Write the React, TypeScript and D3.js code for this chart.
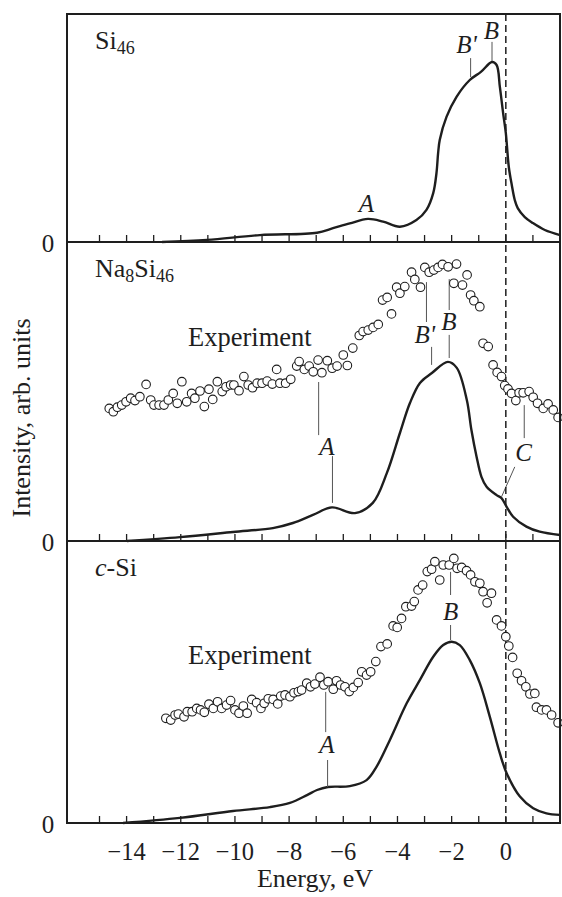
import React from 'react';
import * as d3 from 'd3';

type Pt = [number, number];

// energy (eV), intensity (arb. units)
const si46Calc: Pt[] = [
  [-12.69, 0], [-11.03, 0.07], [-9.08, 0.23], [-6.97, 0.31], [-6.38, 0.46], [-5.76, 0.62],
  [-5.09, 0.77], [-4.53, 0.68], [-3.91, 0.51], [-3.3, 0.73], [-2.93, 1.07], [-2.68, 1.63],
  [-2.56, 2.3], [-2.5, 2.96], [-2.44, 3.4], [-2.19, 4.17], [-1.82, 4.84], [-1.33, 5.4],
  [-0.92, 5.67], [-0.51, 6.0], [-0.34, 5.9], [-0.22, 5.17], [-0.1, 4.3], [0.0, 3.63],
  [0.11, 2.5], [0.22, 1.9], [0.33, 1.4], [0.44, 1.13], [0.7, 0.83], [1.0, 0.63], [1.44, 0.4], [2.0, 0.23],
];

const na8Calc: Pt[] = [
  [-13.99, 0], [-12.03, 0.13], [-10.07, 0.3], [-8.6, 0.43], [-7.86, 0.6], [-7.12, 0.87],
  [-6.42, 1.12], [-5.57, 0.93], [-4.91, 1.27], [-4.39, 2.27], [-3.91, 3.6], [-3.54, 4.6],
  [-3.17, 5.27], [-2.73, 5.6], [-2.14, 5.97], [-1.81, 5.77], [-1.44, 4.7], [-1.27, 3.7],
  [-1.08, 2.81], [-0.9, 2.14], [-0.71, 1.81], [-0.34, 1.53], [-0.16, 1.43], [0.03, 1.14],
  [0.27, 0.81], [0.76, 0.48], [1.25, 0.31], [2.0, 0.2],
];

const na8Exp: Pt[] = [
  [-14.64, 4.42], [-14.49, 4.31], [-14.34, 4.46], [-14.18, 4.53], [-14.02, 4.64], [-13.85, 4.76],
  [-13.69, 4.68], [-13.51, 4.81], [-13.28, 5.22], [-13.11, 4.7], [-12.99, 4.53], [-12.8, 4.53],
  [-12.62, 4.53], [-12.46, 4.7], [-12.28, 4.92], [-12.13, 4.59], [-11.96, 5.31], [-11.78, 4.64],
  [-11.6, 4.92], [-11.48, 4.76], [-11.29, 5.0], [-11.13, 4.48], [-10.96, 5.06], [-10.82, 4.72],
  [-10.65, 5.31], [-10.47, 4.98], [-10.33, 5.14], [-10.16, 5.2], [-10.04, 5.2], [-9.85, 5.01],
  [-9.67, 5.48], [-9.51, 5.2], [-9.35, 5.11], [-9.18, 5.26], [-9.0, 5.26], [-8.81, 5.33],
  [-8.62, 5.23], [-8.46, 5.72], [-8.34, 5.26], [-8.13, 5.26], [-7.94, 5.39], [-7.72, 5.83],
  [-7.63, 5.98], [-7.44, 5.72], [-7.26, 5.83], [-7.11, 5.64], [-6.93, 6.03], [-6.79, 5.61],
  [-6.59, 6.01], [-6.41, 5.76], [-6.23, 5.83], [-6.0, 6.2], [-5.85, 5.85], [-5.65, 6.43],
  [-5.41, 6.85], [-5.27, 6.98], [-5.08, 7.03], [-4.9, 7.12], [-4.71, 7.22], [-4.55, 8.03],
  [-4.38, 8.12], [-4.22, 7.57], [-4.03, 8.46], [-3.91, 8.26], [-3.73, 8.48], [-3.48, 8.96],
  [-3.36, 8.72], [-3.15, 8.46], [-2.99, 9.12], [-2.83, 8.96], [-2.66, 9.03], [-2.5, 9.12],
  [-2.34, 9.22], [-2.13, 9.14], [-1.92, 8.59], [-1.82, 9.23], [-1.6, 8.53], [-1.43, 8.87],
  [-1.3, 8.2], [-1.18, 8.01], [-0.96, 7.81], [-0.84, 6.59], [-0.65, 6.48], [-0.47, 5.87],
  [-0.32, 5.62], [-0.16, 5.48], [-0.04, 5.18], [0.08, 5.07], [0.21, 4.92], [0.37, 4.68],
  [0.49, 4.94], [0.64, 4.94], [0.86, 4.98], [1.01, 4.79], [1.17, 4.59], [1.38, 4.42],
  [1.56, 4.57], [1.75, 4.37], [1.93, 4.12],
];

const cSiCalc: Pt[] = [
  [-14.13, 0], [-12.03, 0.17], [-10.07, 0.4], [-8.71, 0.53], [-7.97, 0.67], [-7.34, 0.93],
  [-6.97, 1.1], [-6.57, 1.2], [-5.76, 1.23], [-5.14, 1.43], [-4.77, 1.88], [-4.28, 2.77],
  [-3.66, 3.99], [-3.17, 4.77], [-2.68, 5.54], [-2.31, 5.93], [-2.0, 6.04], [-1.7, 5.93],
  [-1.33, 5.43], [-0.96, 4.66], [-0.59, 3.54], [-0.22, 2.32], [0.03, 1.66], [0.52, 0.88],
  [1.01, 0.49], [1.5, 0.32], [1.99, 0.27],
];

const cSiExp: Pt[] = [
  [-12.55, 3.49], [-12.37, 3.43], [-12.21, 3.6], [-12.09, 3.63], [-11.88, 3.54], [-11.76, 3.71],
  [-11.58, 3.71], [-11.41, 3.82], [-11.27, 3.77], [-11.13, 3.69], [-10.96, 3.96], [-10.8, 3.82],
  [-10.64, 4.04], [-10.49, 3.82], [-10.31, 3.93], [-10.16, 4.08], [-10.0, 3.77], [-9.85, 3.66],
  [-9.69, 3.9], [-9.55, 3.66], [-9.38, 4.12], [-9.2, 4.01], [-9.04, 3.82], [-8.92, 3.99],
  [-8.77, 4.14], [-8.59, 4.12], [-8.42, 3.97], [-8.31, 4.23], [-8.15, 4.27], [-7.97, 4.21],
  [-7.82, 4.34], [-7.66, 4.38], [-7.54, 4.43], [-7.35, 4.66], [-7.21, 4.54], [-7.05, 4.63],
  [-6.86, 4.86], [-6.72, 4.6], [-6.56, 4.71], [-6.37, 4.46], [-6.25, 4.74], [-6.1, 4.6],
  [-5.94, 4.54], [-5.78, 4.38], [-5.63, 4.52], [-5.45, 4.68], [-5.32, 5.04], [-5.14, 4.93],
  [-4.99, 5.04], [-4.8, 5.38], [-4.61, 5.88], [-4.38, 5.97], [-4.16, 6.57], [-4.01, 6.52],
  [-3.85, 6.82], [-3.69, 7.21], [-3.48, 7.23], [-3.38, 7.38], [-3.24, 7.77], [-3.07, 7.93],
  [-2.9, 8.38], [-2.74, 8.46], [-2.62, 8.71], [-2.44, 8.1], [-2.31, 8.6], [-2.09, 8.6],
  [-1.92, 8.82], [-1.8, 8.49], [-1.63, 8.52], [-1.45, 8.41], [-1.3, 8.27], [-1.14, 8.04],
  [-0.96, 7.99], [-0.84, 7.71], [-0.69, 7.34], [-0.53, 7.66], [-0.34, 6.77], [-0.16, 6.57],
  [0.0, 6.21], [0.11, 5.9], [0.25, 5.52], [0.42, 4.99], [0.58, 4.74], [0.74, 4.54],
  [0.89, 4.3], [1.07, 4.32], [1.13, 3.86], [1.32, 3.77], [1.5, 3.77], [1.69, 3.6], [1.93, 3.34],
];

const tickValues = d3.range(-15, 2);
const tickLabels = [-14, -12, -10, -8, -6, -4, -2, 0];

// peak marks: label, label position (e, i), leader lines [e1, i1, e2, i2]
type Mark = { label: string; e: number; i: number; lines: number[][] };

const si46Marks: Mark[] = [
  { label: 'A', e: -5.15, i: 1.0, lines: [] },
  { label: "B'", e: -1.45, i: 6.3, lines: [[-1.3, 6.13, -1.3, 5.5]] },
  { label: 'B', e: -0.53, i: 6.77, lines: [[-0.51, 6.67, -0.51, 6.03]] },
];
const na8Marks: Mark[] = [
  { label: 'A', e: -6.61, i: 2.87, lines: [[-6.91, 5.3, -6.91, 3.53], [-6.4, 2.83, -6.4, 1.27]] },
  { label: "B'", e: -2.99, i: 6.6, lines: [[-2.93, 8.63, -2.93, 7.3], [-2.74, 6.47, -2.74, 5.87]] },
  { label: 'B', e: -2.1, i: 7.03, lines: [[-2.09, 8.73, -2.09, 7.7], [-2.09, 6.87, -2.09, 6.1]] },
  { label: 'C', e: 0.66, i: 2.67, lines: [[0.68, 4.53, 0.68, 3.43], [0.33, 2.47, -0.16, 1.47]] },
];
const cSiMarks: Mark[] = [
  { label: 'A', e: -6.61, i: 2.33, lines: [[-6.65, 4.37, -6.65, 3.03], [-6.58, 2.1, -6.58, 1.2]] },
  { label: 'B', e: -2.04, i: 6.77, lines: [[-2.04, 8.37, -2.04, 7.6], [-2.04, 6.6, -2.04, 6.1]] },
];

const W = 562;
const H = 897;
const left = 67;
const right = 560;
const top = 14;
const FONT = "'Liberation Serif', 'Times New Roman', serif";
const INK = '#1e1e1e';

const x = d3.scaleLinear().domain([-16.2, 2.0]).range([left, right]);

const panels = [
  { id: 'si46', y0: 14, y1: 242, calc: si46Calc, exp: null as Pt[] | null, marks: si46Marks, expText: null as number[] | null },
  { id: 'na8', y0: 242, y1: 541, calc: na8Calc, exp: na8Exp, marks: na8Marks, expText: [-9.45, 6.5] },
  { id: 'csi', y0: 541, y1: 823, calc: cSiCalc, exp: cSiExp, marks: cSiMarks, expText: [-9.45, 5.3] },
];

const Title = ({ id }: { id: string }) => {
  if (id === 'si46')
    return (<>Si<tspan fontSize={18} dy={5}>46</tspan></>);
  if (id === 'na8')
    return (<>Na<tspan fontSize={18} dy={5}>8</tspan><tspan dy={-5}>Si</tspan><tspan fontSize={18} dy={5}>46</tspan></>);
  return (<><tspan fontStyle="italic">c</tspan>-Si</>);
};

export default function App() {
  const bottom = panels[panels.length - 1].y1;
  return (
    <svg width={W} height={H} style={{ position: 'absolute', left: 0, top: 0, background: '#fff' }}
      fontFamily={FONT} fill={INK}>
      {panels.map((p) => {
        const y = d3.scaleLinear().domain([0, (p.y1 - p.y0) / 30]).range([p.y1, p.y0]);
        const line = d3.line<Pt>().x((d) => x(d[0])).y((d) => y(d[1])).curve(d3.curveCatmullRom.alpha(0.5));
        return (
          <g key={p.id}>
            <path d={line(p.calc) || ''} fill="none" stroke={INK} strokeWidth={2.4} />
            {tickValues.map((t) => (
              <line key={t} x1={x(t)} x2={x(t)} y1={p.y1} y2={p.y1 - 7} stroke={INK} strokeWidth={1.3} />
            ))}
            <line x1={left} x2={right} y1={p.y1} y2={p.y1} stroke={INK} strokeWidth={2} />
            <text x={48} y={p.y1 + 10} fontSize={25} textAnchor="middle">0</text>
            <text x={left + 28} y={p.y0 + 35} fontSize={26}><Title id={p.id} /></text>
            {p.expText && (
              <text x={x(p.expText[0])} y={y(p.expText[1])} fontSize={26.5} textAnchor="middle">Experiment</text>
            )}
            {p.marks.map((m, k) => (
              <g key={k}>
                {m.lines.map((l, j) => (
                  <line key={j} x1={x(l[0])} y1={y(l[1])} x2={x(l[2])} y2={y(l[3])} stroke="#555" strokeWidth={1} />
                ))}
                <text x={x(m.e)} y={y(m.i)} fontSize={25} fontStyle="italic" textAnchor="middle">{m.label}</text>
              </g>
            ))}
          </g>
        );
      })}
      <line x1={x(0)} x2={x(0)} y1={top} y2={bottom} stroke={INK} strokeWidth={1.5} strokeDasharray="7,4" />
      {panels.map((p) => {
        if (!p.exp) return null;
        const y = d3.scaleLinear().domain([0, (p.y1 - p.y0) / 30]).range([p.y1, p.y0]);
        return (
          <g key={p.id + '-exp'}>
            {p.exp.map((d, k) => (
              <circle key={k} cx={x(d[0])} cy={y(d[1])} r={4.3} fill="#fff" stroke={INK} strokeWidth={1.1} />
            ))}
          </g>
        );
      })}
      <rect x={left} y={top} width={right - left} height={bottom - top} fill="none" stroke={INK} strokeWidth={2} />
      {tickLabels.map((t) => (
        <text key={t} x={x(t)} y={860} fontSize={24.5} textAnchor="middle">
          {t < 0 ? '\u2212' + Math.abs(t) : t}
        </text>
      ))}
      <text x={315} y={887} fontSize={26} textAnchor="middle">Energy, eV</text>
      <text transform="translate(30,418) rotate(-90)" fontSize={26} textAnchor="middle">Intensity, arb. units</text>
    </svg>
  );
}
